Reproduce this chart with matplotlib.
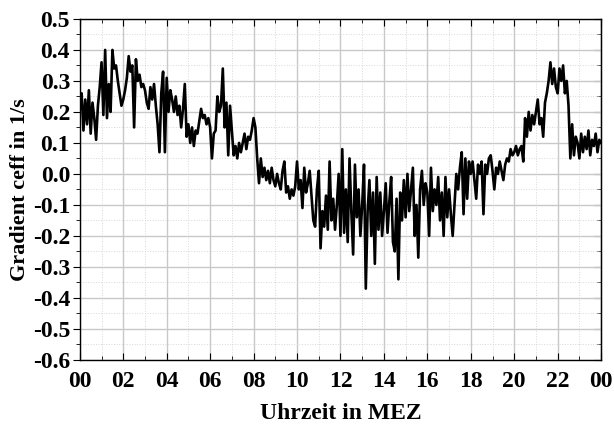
"""
Gradient coefficient over one day (MEZ), single noisy trace.
"""
import numpy as np
import matplotlib.pyplot as plt
from matplotlib.ticker import MultipleLocator, FuncFormatter

# Values, 12 samples per hour (5 min), one list per hour
H00 = [0.21, 0.26, 0.14, 0.24, 0.16, 0.27, 0.13, 0.23, 0.18, 0.11, 0.22, 0.28]
H01 = [0.36, 0.19, 0.40, 0.18, 0.29, 0.20, 0.40, 0.34, 0.35, 0.30, 0.26, 0.22]
H02 = [0.24, 0.27, 0.31, 0.38, 0.33, 0.35, 0.15, 0.37, 0.30, 0.32, 0.28, 0.29]
H03 = [0.27, 0.23, 0.21, 0.28, 0.24, 0.29, 0.22, 0.16, 0.07, 0.26, 0.33, 0.07]
H04 = [0.31, 0.20, 0.27, 0.24, 0.20, 0.25, 0.19, 0.22, 0.15, 0.21, 0.29, 0.12]
H05 = [0.16, 0.10, 0.15, 0.09, 0.14, 0.13, 0.17, 0.21, 0.18, 0.19, 0.16, 0.18]
H06 = [0.15, 0.05, 0.13, 0.14, 0.25, 0.20, 0.22, 0.34, 0.15, 0.23, 0.06, 0.22]
H07 = [0.14, 0.06, 0.09, 0.05, 0.10, 0.07, 0.10, 0.13, 0.08, 0.12, 0.11, 0.14]
H08 = [0.18, 0.15, 0.05, -0.03, 0.05, -0.01, 0.02, -0.02, 0.01, -0.03, 0.02, -0.02]
H09 = [-0.04, 0.00, -0.03, -0.05, 0.01, 0.04, -0.06, -0.04, -0.08, -0.05, -0.07, -0.04]
H10 = [0.04, -0.05, -0.02, -0.11, 0.02, -0.06, -0.03, 0.01, -0.07, -0.15, -0.17, -0.05]
H11 = [0.01, -0.24, -0.12, -0.17, -0.07, -0.18, 0.04, -0.15, -0.08, -0.18, -0.10, 0.00]
H12 = [-0.20, 0.08, -0.19, -0.05, -0.22, 0.05, -0.12, -0.26, 0.03, -0.14, -0.05, -0.20]
H13 = [-0.10, 0.03, -0.37, -0.12, -0.02, -0.20, -0.06, -0.29, -0.01, -0.18, -0.06, -0.20]
H14 = [-0.12, -0.03, -0.19, -0.09, -0.01, -0.22, -0.25, -0.08, -0.34, -0.06, -0.15, -0.02]
H15 = [-0.14, 0.00, -0.12, -0.05, 0.02, -0.20, -0.10, -0.27, -0.05, 0.01, -0.10, -0.03]
H16 = [-0.06, -0.20, 0.02, -0.12, -0.05, -0.10, -0.01, -0.15, -0.06, -0.20, -0.01, -0.14]
H17 = [-0.05, -0.13, -0.20, -0.10, 0.00, -0.05, 0.02, 0.07, -0.13, 0.05, -0.08, 0.04]
H18 = [0.00, 0.04, -0.02, -0.08, 0.03, 0.00, 0.04, -0.13, 0.03, 0.00, 0.05, 0.06]
H19 = [0.01, -0.05, 0.02, 0.00, 0.04, 0.01, -0.02, 0.03, 0.05, 0.04, 0.08, 0.06]
H20 = [0.07, 0.09, 0.06, 0.08, 0.09, 0.04, 0.18, 0.12, 0.20, 0.14, 0.19, 0.16]
H21 = [0.20, 0.24, 0.16, 0.18, 0.12, 0.23, 0.26, 0.30, 0.36, 0.29, 0.34, 0.28]
H22 = [0.26, 0.34, 0.30, 0.35, 0.26, 0.30, 0.22, 0.05, 0.16, 0.06, 0.12, 0.10]
H23 = [0.05, 0.13, 0.07, 0.12, 0.08, 0.14, 0.06, 0.11, 0.09, 0.13, 0.07, 0.11]
END = [0.10]

HOURS = [H00, H01, H02, H03, H04, H05, H06, H07, H08, H09, H10, H11,
         H12, H13, H14, H15, H16, H17, H18, H19, H20, H21, H22, H23, END]

grad = np.concatenate(HOURS)
t = np.arange(len(grad)) / 12.0  # hours, 5-min sampling

plt.rcParams["font.family"] = ["Liberation Serif", "DejaVu Serif"]
plt.rcParams["font.weight"] = "bold"

fig = plt.figure(figsize=(6.14, 4.30), dpi=100)
ax = fig.add_axes([0.130, 0.163, 0.849, 0.793])

ax.plot(t, grad, color="black", linewidth=1.9, zorder=3)

ax.set_xlim(0, 24)
ax.set_ylim(-0.6, 0.5)
ax.xaxis.set_major_locator(MultipleLocator(2))
ax.xaxis.set_minor_locator(MultipleLocator(1))
ax.yaxis.set_major_locator(MultipleLocator(0.1))
ax.yaxis.set_minor_locator(MultipleLocator(0.05))
ax.xaxis.set_major_formatter(FuncFormatter(lambda v, p: f"{int(v) % 24:02d}"))
ax.yaxis.set_major_formatter(FuncFormatter(lambda v, p: f"{v:.1f}".replace("-0.0", "0.0")))

ax.grid(True, which="major", color="#c8c8c8", linewidth=1.0, zorder=0)
ax.grid(True, which="minor", color="#d8d8d8", linewidth=0.7, linestyle=":", zorder=0)

ax.tick_params(axis="x", which="both", direction="in", top=True, labelsize=17, pad=8)
ax.tick_params(axis="x", which="major", length=5)
ax.tick_params(axis="x", which="minor", length=3)
ax.tick_params(axis="y", which="both", direction="out", labelsize=17, pad=2)
ax.tick_params(axis="y", which="major", length=5)
ax.tick_params(axis="y", which="minor", length=3)

# right side ticks point inward, no labels
sec = ax.secondary_yaxis("right")
sec.yaxis.set_major_locator(MultipleLocator(0.1))
sec.yaxis.set_minor_locator(MultipleLocator(0.05))
sec.tick_params(which="both", direction="in", labelright=False)
sec.tick_params(which="major", length=5)
sec.tick_params(which="minor", length=3)

for s in ax.spines.values():
    s.set_linewidth(1.0)

ax.set_xlabel("Uhrzeit in MEZ", fontsize=17, fontweight="bold", labelpad=8)
ax.set_ylabel("Gradient ceff in 1/s", fontsize=16, fontweight="bold", labelpad=2)

fig.savefig("out.png", dpi=100)
